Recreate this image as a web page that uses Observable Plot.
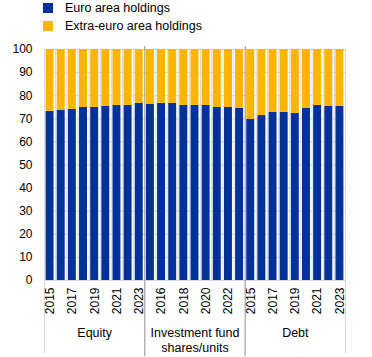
<!DOCTYPE html>
<html>
<head>
<meta charset="utf-8">
<script src="https://cdn.jsdelivr.net/npm/d3@7"></script>
<script src="https://cdn.jsdelivr.net/npm/@observablehq/plot@0.6"></script>
<style>
  body { margin: 0; background: #fff; font-family: "Liberation Sans", Arial, sans-serif; }
  #wrap { width: 372px; height: 357px; position: relative; }
  .legend { height: 40px; position: relative; font-size: 12.5px; color: #000; }
  .item { position: absolute; left: 43px; display: flex; align-items: center; height: 12px; }
  .sw { width: 10px; height: 10px; margin-right: 12px; }
  svg { display: block; }
</style>
</head>
<body>
<div id="wrap"></div>
<script>
const groups = ["Equity", "Investment fund\nshares/units", "Debt"];
const years = [2015, 2016, 2017, 2018, 2019, 2020, 2021, 2022, 2023];
const seriesNames = ["Euro area holdings", "Extra-euro area holdings"];
const colors = ["#003299", "#FFB400"];
const euroEquity = [73.2, 73.6, 74.1, 74.9, 74.9, 75.4, 75.8, 75.8, 76.7];
const euroFunds = [76.2, 76.7, 76.7, 75.8, 75.8, 75.8, 74.9, 74.9, 74.5];
const euroDebt = [69.7, 71.4, 72.8, 72.8, 72.3, 74.5, 75.8, 75.4, 75.4];
const yTicks = [0, 10, 20, 30, 40, 50, 60, 70, 80, 90, 100];

const euroByGroup = [euroEquity, euroFunds, euroDebt];
const rows = [];
groups.forEach((g, gi) => {
  years.forEach((yr, yi) => {
    const idx = gi * years.length + yi;
    const v = euroByGroup[gi][yi];
    rows.push({idx, group: g, year: yr, series: seriesNames[0], y1: 0, y2: v});
    rows.push({idx, group: g, year: yr, series: seriesNames[1], y1: v, y2: 100});
  });
});
const n = groups.length * years.length;
const cats = d3.range(n).map(i => ({idx: i, year: years[i % years.length]}));
const bounds = d3.range(n + 1);
const seps = d3.range(1, groups.length).map(g => g * years.length);
const groupCenters = groups.map((g, gi) => ({g, x: gi * years.length + years.length / 2}));

const wrap = document.getElementById("wrap");
const legend = document.createElement("div");
legend.className = "legend";
seriesNames.forEach((s, i) => {
  const it = document.createElement("div");
  it.className = "item";
  it.style.top = (i === 0 ? 2 : 20) + "px";
  it.innerHTML = `<div class="sw" style="background:${colors[i]}"></div><span>${s}</span>`;
  legend.appendChild(it);
});
wrap.appendChild(legend);

const chart = Plot.plot({
  width: 372,
  height: 317,
  marginTop: 9,
  marginBottom: 77,
  marginLeft: 44,
  marginRight: 27,
  style: {fontFamily: "Liberation Sans, Arial, sans-serif", fontSize: "12px", color: "#000", background: "#fff"},
  x: {domain: [0, n], axis: null},
  y: {domain: [0, 100], axis: null},
  color: {domain: seriesNames, range: colors},
  marks: [
    Plot.ruleY(yTicks, {y: d => d, stroke: "#d9d9d9", strokeWidth: 1}),
    Plot.ruleX(bounds.filter(b => b !== 0 && b !== n && !seps.includes(b)), {x: d => d, stroke: "#d9d9d9", strokeWidth: 1}),
    Plot.ruleX([0, n], {x: d => d, stroke: "#d9d9d9", strokeWidth: 1, insetBottom: -73}),
    Plot.rectY(rows, {x1: "idx", x2: d => d.idx + 1, y1: "y1", y2: "y2", fill: "series", insetLeft: 1.6, insetRight: 1.6}),
    Plot.ruleX(seps, {x: d => d, stroke: "#8c8c8c", strokeWidth: 1, insetTop: -3, insetBottom: -76}),
    Plot.text(yTicks, {x: 0, y: d => d, text: d => String(d), textAnchor: "end", dx: -12, fill: "#000", fontSize: 12}),
    Plot.text(cats.filter(c => c.idx % 2 === 0), {x: d => d.idx + 0.5, y: 0, text: d => String(d.year), rotate: -90, textAnchor: "end", dy: 7, fill: "#000", fontSize: 12}),
    Plot.text(groupCenters, {x: "x", y: 0, text: "g", lineAnchor: "top", dy: 46, lineHeight: 1.17, fill: "#000", fontSize: 12.5})
  ]
});
wrap.appendChild(chart);
</script>
</body>
</html>
